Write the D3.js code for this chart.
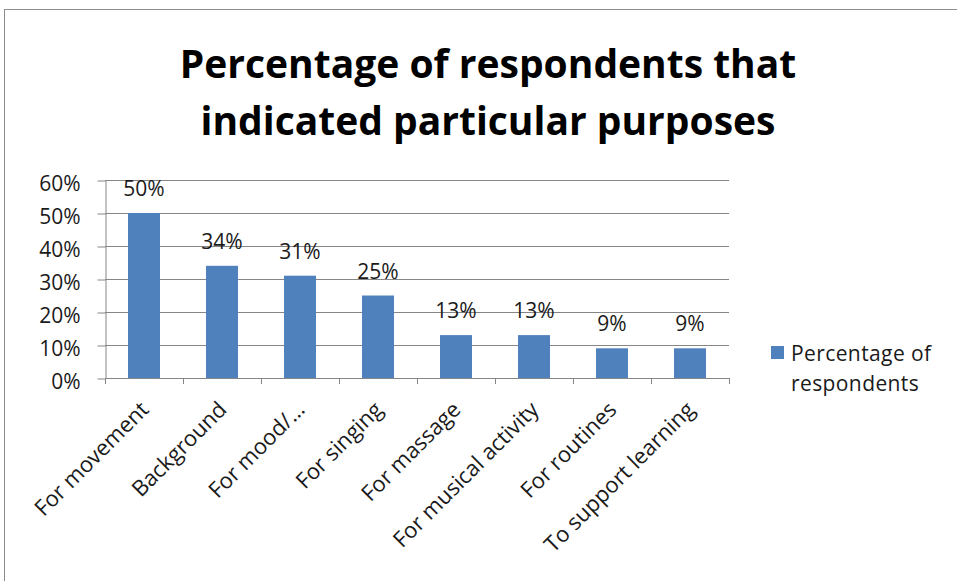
<!DOCTYPE html>
<html>
<head>
<meta charset="utf-8">
<script src="https://cdn.jsdelivr.net/npm/d3@7"></script>
<style>
  html, body { margin: 0; padding: 0; background: #fff; }
  svg { display: block; }
  text { font-family: "Open Sans", "Noto Sans", sans-serif; }
</style>
</head>
<body>
<script>
// Purposes and the share of respondents naming each one
const categories = ["For movement", "Background", "For mood/…", "For singing",
  "For massage", "For musical activity", "For routines", "To support learning"];
const percentages = [50, 34, 31, 25, 13, 13, 9, 9];
const yTicks = [0, 10, 20, 30, 40, 50, 60];
const seriesName = ["Percentage of", "respondents"];
const titleLines = ["Percentage of respondents that", "indicated particular purposes"];

const W = 957, H = 581;
const plot = { left: 105, right: 729, top: 180, bottom: 378 };
const axisColor = "#868686";
const barColor = "#4F81BD";

const svg = d3.select("body").append("svg").attr("width", W).attr("height", H);

// chart frame
svg.append("rect").attr("x", 4.5).attr("y", 9.5).attr("width", W + 10).attr("height", H + 10)
  .attr("fill", "#fff").attr("stroke", "#8c8c8c").attr("stroke-width", 1);

// title
svg.append("g").selectAll("text").data(titleLines).join("text")
  .attr("x", 488).attr("y", (d, i) => 78 + i * 57)
  .attr("text-anchor", "middle")
  .attr("font-size", 39).attr("font-weight", "bold").attr("fill", "#000")
  .text(d => d);

const x = d3.scaleBand().domain(categories).range([plot.left, plot.right])
  .paddingInner(0.59).paddingOuter(0.295);
const y = d3.scaleLinear().domain([0, 60]).range([plot.bottom, plot.top]);

// horizontal gridlines
svg.append("g").selectAll("line").data(yTicks.filter(t => t > 0)).join("line")
  .attr("x1", plot.left).attr("x2", plot.right)
  .attr("y1", d => Math.round(y(d)) + 0.5).attr("y2", d => Math.round(y(d)) + 0.5)
  .attr("stroke", axisColor).attr("stroke-width", 1);

// y axis
const yAxis = svg.append("g").attr("transform", `translate(${plot.left + 0.5},0.5)`)
  .call(d3.axisLeft(y).tickValues(yTicks).tickFormat(d => d + "%").tickSize(8).tickSizeOuter(0));
yAxis.select(".domain").attr("stroke", axisColor);
yAxis.selectAll(".tick line").attr("stroke", axisColor);
yAxis.selectAll(".tick text")
  .attr("font-size", 21).attr("fill", "#1a1a1a")
  .attr("font-family", "'Open Sans', 'Noto Sans', sans-serif")
  .attr("x", -25).attr("dy", "0.48em");

// x axis line with ticks at category boundaries
const boundaries = d3.range(categories.length + 1)
  .map(i => plot.left + i * (plot.right - plot.left) / categories.length);
svg.append("line").attr("x1", plot.left).attr("x2", plot.right)
  .attr("y1", plot.bottom + 0.5).attr("y2", plot.bottom + 0.5).attr("stroke", axisColor);
svg.append("g").selectAll("line").data(boundaries).join("line")
  .attr("x1", d => Math.round(d) + 0.5).attr("x2", d => Math.round(d) + 0.5)
  .attr("y1", plot.bottom).attr("y2", plot.bottom + 6).attr("stroke", axisColor);

// bars
svg.append("g").selectAll("rect").data(percentages).join("rect")
  .attr("x", (d, i) => x(categories[i]))
  .attr("width", x.bandwidth())
  .attr("y", d => y(d))
  .attr("height", d => y(0) - y(d))
  .attr("fill", barColor);

// value labels
svg.append("g").selectAll("text").data(percentages).join("text")
  .attr("x", (d, i) => x(categories[i]) + x.bandwidth() / 2)
  .attr("y", d => y(d) - 17)
  .attr("text-anchor", "middle").attr("font-size", 21).attr("fill", "#1a1a1a")
  .text(d => d + "%");

// rotated category labels
svg.append("g").selectAll("text").data(categories).join("text")
  .attr("transform", d => `translate(${x(d) + x.bandwidth() / 2 + 6},${plot.bottom + 33}) rotate(-45)`)
  .attr("text-anchor", "end").attr("font-size", 22).attr("fill", "#1a1a1a")
  .text(d => d);

// legend
const lg = svg.append("g").attr("transform", "translate(771,346)");
lg.append("rect").attr("width", 13).attr("height", 13).attr("fill", barColor);
lg.selectAll("text").data(seriesName).join("text")
  .attr("x", 20).attr("y", (d, i) => 15 + i * 30)
  .attr("font-size", 21).attr("letter-spacing", 0.4).attr("fill", "#1a1a1a")
  .text(d => d);
</script>
</body>
</html>
